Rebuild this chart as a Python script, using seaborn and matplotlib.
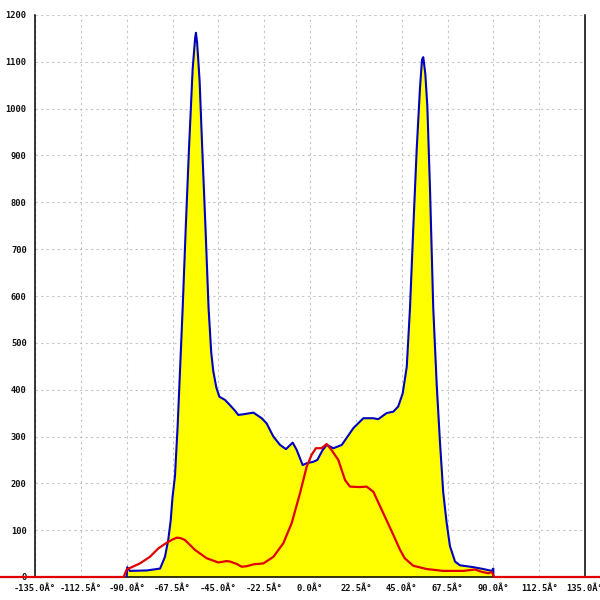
import matplotlib
matplotlib.use("Agg")
import matplotlib.pyplot as plt
import seaborn as sns
import pandas as pd
import numpy as np

# Blue series (filled yellow)
blue_x = [-90.0, -89.7, -88.4, -80.0, -73.6, -71.2, -69.6, -68.4, -67.5, -66.3, -65.0, -64.1,
          -62.5, -61.0, -59.4, -57.6, -56.4, -56.0, -55.4, -54.2, -52.9, -51.3, -49.8, -48.5, -47.5, -46.0,
          -44.5, -41.7, -39.3, -36.8, -35.2, -31.9, -27.8, -23.7, -21.3, -18.0, -14.7, -11.8,
          -8.5, -6.5, -3.6, -1.6, 1.6, 3.6, 6.2, 8.2, 11.5, 15.6, 21.3, 26.2, 31.1, 33.5,
          37.6, 40.9, 43.3, 45.5, 47.5, 49.1, 50.7, 52.4, 54.0, 55.0, 55.6, 56.6, 57.6, 58.9, 60.5,
          62.2, 63.8, 65.4, 67.1, 68.7, 71.2, 73.6, 80.2, 85.1, 89.2, 90.0, 90.0]
blue_y = [0, 21, 13, 14, 18, 43, 79, 120, 170, 215, 320, 411,
          575, 745, 915, 1085, 1150, 1162, 1140, 1060, 915, 745, 575, 480, 440, 405,
          385, 378, 367, 355, 346, 348, 351, 339, 328, 300, 282, 273,
          287, 271, 239, 243, 246, 250, 271, 282, 275, 282, 318, 339, 339, 337,
          350, 353, 364, 392, 449, 575, 745, 915, 1045, 1105, 1110, 1075, 1005, 830, 575,
          411, 288, 181, 115, 66, 33, 25, 21, 17, 13, 18, 0]

# Red series
red_x = [-180.0, -91.5, -90.0, -83.5, -78.6, -74.5, -70.4, -67.5, -65.4, -63.5, -61.4, -56.5,
         -50.7, -45.0, -40.9, -39.3, -36.0, -33.6, -31.1, -27.8, -22.9, -18.0, -13.1, -9.0,
         -4.9, -1.6, 0.8, 2.9, 5.7, 8.2, 10.6, 13.9, 17.2, 19.6, 24.5, 27.8, 31.1, 36.0,
         40.9, 44.2, 46.5, 50.7, 57.3, 65.4, 75.3, 81.0, 84.3, 87.6, 89.2, 90.4, 180.0]
red_y = [0, 0, 16, 29, 43, 61, 73, 80, 84, 83, 79, 58,
         40, 31, 34, 33, 28, 22, 23, 27, 29, 43, 72, 115,
         179, 236, 261, 275, 275, 284, 271, 250, 207, 193, 192, 193, 182, 136,
         90, 58, 40, 24, 17, 13, 13, 16, 11, 8, 11, 0, 0]

x_ticks = [-135.0, -112.5, -90.0, -67.5, -45.0, -22.5, 0.0, 22.5, 45.0, 67.5, 90.0, 112.5, 135.0]
x_tick_labels = [f"{v:.1f}Â°" for v in x_ticks]
y_ticks = list(range(0, 1300, 100))

blue_df = pd.DataFrame({"angle": blue_x, "value": blue_y})
red_df = pd.DataFrame({"angle": red_x, "value": red_y})

sns.set_style("white")
plt.rcParams["font.family"] = ["DejaVu Sans Mono"]

fig = plt.figure(figsize=(6, 6), dpi=100)
ax = fig.add_axes([35 / 600, 23 / 600, 550 / 600, 562 / 600])

ax.fill_between(blue_df["angle"], 0, blue_df["value"], color="#ffff00", lw=0, zorder=2)
sns.lineplot(data=blue_df, x="angle", y="value", ax=ax, color="#0000c0", lw=1.5,
             sort=False, estimator=None, zorder=3)
sns.lineplot(data=red_df, x="angle", y="value", ax=ax, color="#e00000", lw=1.6,
             sort=False, estimator=None, zorder=4)
for ln in ax.lines[-1:]:
    ln.set_clip_on(False)

ax.set_xlim(-135, 135)
ax.set_ylim(0, 1200)
ax.set_xticks(x_ticks)
ax.set_xticklabels(x_tick_labels)
ax.set_yticks(y_ticks)
ax.set_xlabel("")
ax.set_ylabel("")

ax.grid(True, color="#c4c4c4", linestyle=(0, (2, 3)), lw=0.8, zorder=0)
ax.set_axisbelow(True)

for s in ["left", "right", "bottom"]:
    ax.spines[s].set_visible(True)
    ax.spines[s].set_color("black")
    ax.spines[s].set_linewidth(1.1)
ax.spines["top"].set_visible(False)

ax.tick_params(axis="both", direction="inout", length=8, width=1.1, color="black",
               labelsize=6.3, labelcolor="#111111")
ax.tick_params(axis="x", pad=1)
ax.tick_params(axis="y", pad=2)
for lbl in ax.get_xticklabels() + ax.get_yticklabels():
    lbl.set_fontweight("bold")

fig.savefig("out.png", dpi=100)
